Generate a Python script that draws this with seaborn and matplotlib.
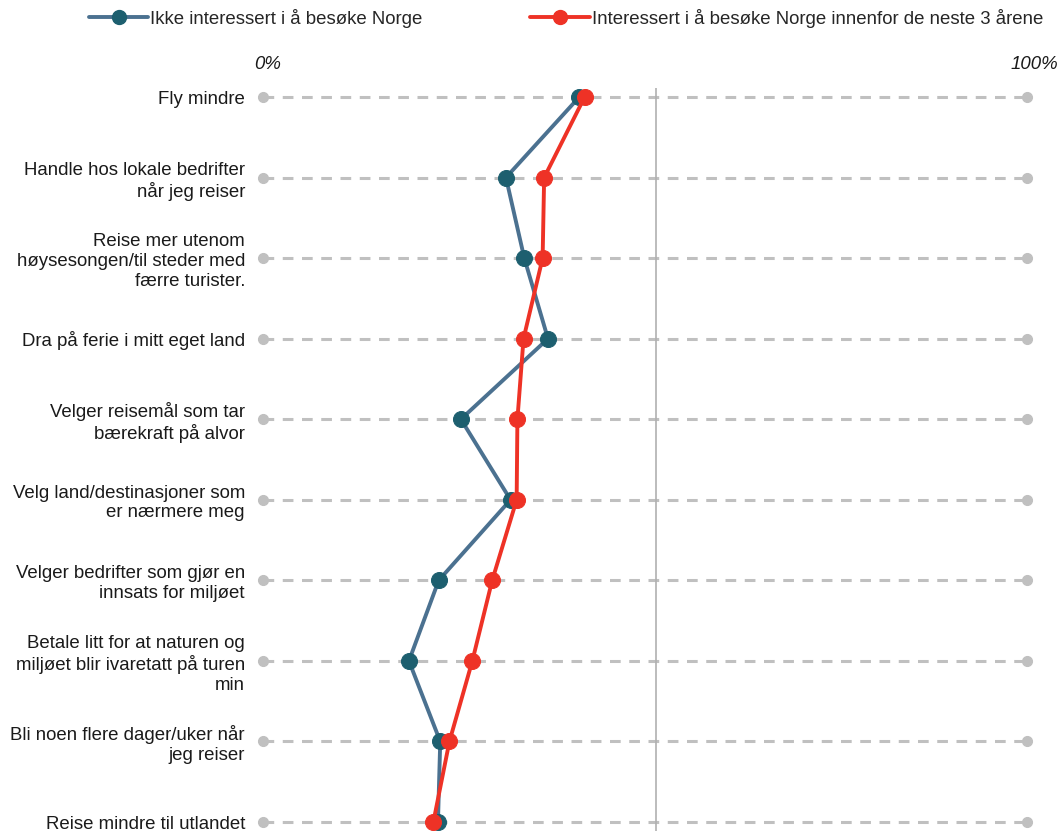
import matplotlib
matplotlib.use("Agg")
import matplotlib.pyplot as plt
import seaborn as sns
import pandas as pd
from matplotlib.lines import Line2D

sns.set_theme(style="white")
plt.rcParams['font.family'] = ['Liberation Sans', 'DejaVu Sans']

categories = [
    "Fly mindre",
    "Handle hos lokale bedrifter\nnår jeg reiser",
    "Reise mer utenom\nhøysesongen/til steder med\nfærre turister.",
    "Dra på ferie i mitt eget land",
    "Velger reisemål som tar\nbærekraft på alvor",
    "Velg land/destinasjoner som\ner nærmere meg",
    "Velger bedrifter som gjør en\ninnsats for miljøet",
    "Betale litt for at naturen og\nmiljøet blir ivaretatt på turen\nmin",
    "Bli noen flere dager/uker når\njeg reiser",
    "Reise mindre til utlandet",
]
ikke_interessert = [41.4, 31.8, 34.2, 37.3, 25.9, 32.4, 23.0, 19.1, 23.2, 22.9]
interessert = [42.1, 36.8, 36.6, 34.1, 33.3, 33.2, 30.0, 27.4, 24.4, 22.3]
series_names = ["Ikke interessert i å besøke Norge",
                "Interessert i å besøke Norge innenfor de neste 3 årene"]
ref_line = 51.4
axis_labels = ["0%", "100%"]

blue_line = "#4b7190"
blue_marker = "#1d5f6f"
red = "#ee3226"
grey = "#c0c0c0"
FS = 13.4

W, H = 1062, 831
fig = plt.figure(figsize=(W / 100, H / 100), dpi=100)
top_px, row0_px, step_px = 88, 97, 80.56
ax = fig.add_axes([263 / W, 0, 764 / W, (H - top_px) / H])
ax.set_xlim(0, 100)
ax.set_ylim((H - row0_px) / step_px, (top_px - row0_px) / step_px)

pos = list(range(len(categories)))

# dashed guide lines with end dots
for p in pos:
    ax.plot([0, 100], [p, p], color=grey, lw=2.2, dashes=(3.5, 2.8), zorder=1, clip_on=False)
    ax.plot([0, 100], [p, p], ls="none", marker="o", ms=7, color=grey, zorder=2, clip_on=False)

ax.axvline(ref_line, color="#b0b0b0", lw=1.2, zorder=1)

df = pd.DataFrame({
    "value": ikke_interessert + interessert,
    "pos": pos + pos,
    "serie": [series_names[0]] * len(pos) + [series_names[1]] * len(pos),
})

sns.lineplot(data=df[df.serie == series_names[0]], x="value", y="pos", orient="y", sort=False,
             color=blue_line, lw=2.8, marker="o", ms=11.5, markerfacecolor=blue_marker,
             markeredgecolor=blue_marker, ax=ax, zorder=3, legend=False, clip_on=False)
sns.lineplot(data=df[df.serie == series_names[1]], x="value", y="pos", orient="y", sort=False,
             color=red, lw=2.8, marker="o", ms=11.5, markerfacecolor=red,
             markeredgecolor=red, ax=ax, zorder=4, legend=False, clip_on=False)

ax.set_yticks(pos)
ax.set_yticklabels(categories, fontsize=FS, color="#1a1a1a", linespacing=1.2)
ax.tick_params(axis="y", length=0, pad=13)
ax.set_xticks([])
ax.set_xlabel("")
ax.set_ylabel("")
for s in ax.spines.values():
    s.set_visible(False)

ax.text(0.6, -0.4, axis_labels[0], ha="center", va="center", fontsize=FS, style="italic", color="#1a1a1a")
ax.text(101.0, -0.4, axis_labels[1], ha="center", va="center", fontsize=FS, style="italic", color="#1a1a1a")

handles = [
    Line2D([], [], color=blue_line, lw=2.8, marker="o", ms=10, markerfacecolor=blue_marker,
           markeredgecolor=blue_marker),
    Line2D([], [], color=red, lw=2.8, marker="o", ms=10, markerfacecolor=red, markeredgecolor=red),
]
fig.legend(handles, series_names, loc="center", bbox_to_anchor=(566 / W, 1 - 18 / H), ncol=2,
           frameon=False, fontsize=FS, handlelength=3.2, handletextpad=0.1, columnspacing=5.8,
           borderpad=0, borderaxespad=0)

fig.savefig("out.png", dpi=100, facecolor="white")
